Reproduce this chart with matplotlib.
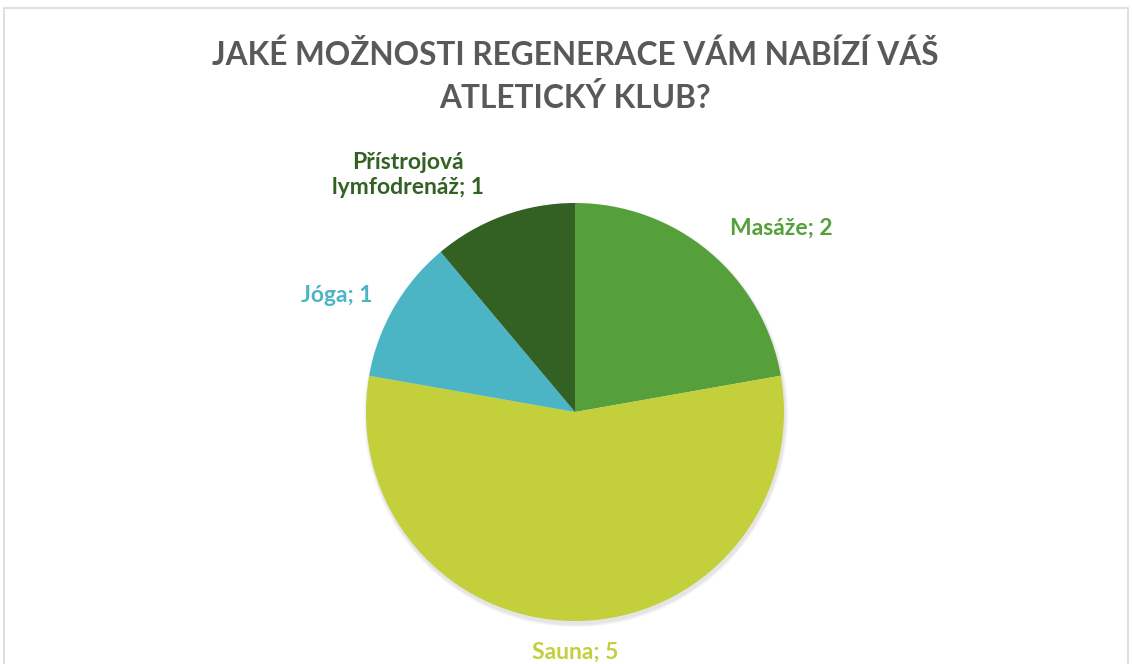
import matplotlib.pyplot as plt
from matplotlib.patches import Rectangle, Circle

# data
kategorie = ['Masáže', 'Sauna', 'Jóga', 'Přístrojová\nlymfodrenáž']
hodnoty = [2, 5, 1, 1]
barvy = ['#55A03A', '#C3D03C', '#4BB5C6', '#336124']
titulek = 'JAKÉ MOŽNOSTI REGENERACE VÁM NABÍZÍ VÁŠ\nATLETICKÝ KLUB?'

plt.rcParams['font.family'] = ['Lato', 'DejaVu Sans']

fig = plt.figure(figsize=(11.32, 6.64), dpi=100)
ax = fig.add_axes([0, 0, 1, 1])

# ramecek grafu
fig.patches.append(Rectangle((4 / 1132, -0.1), 1124 / 1132, (664 - 8) / 664 + 0.1,
                             transform=fig.transFigure, fill=False,
                             edgecolor='#D9D9D9', linewidth=1.2))

stred = (575, 252)
r = 209

# stin
for i, a in enumerate([0.03, 0.03, 0.04]):
    ax.add_patch(Circle((stred[0] + 1, stred[1] - 3), r + 3 - i, color='black',
                        alpha=a, linewidth=0, zorder=1))

ax.pie(hodnoty, colors=barvy, startangle=90, counterclock=False,
       center=stred, radius=r, wedgeprops=dict(linewidth=0, zorder=2))

ax.set_xlim(0, 1132)
ax.set_ylim(0, 664)
ax.set_aspect('equal')
ax.axis('off')

# popisky
pozice = [(781, 436), (575, 12), (337, 368), (408, 489)]
for kat, h, c, p in zip(kategorie, hodnoty, barvy, pozice):
    txt = kat + '; ' + str(h)
    ax.text(p[0], p[1], txt, color=c, fontsize=16.5, fontweight='bold',
            ha='center', va='center', linespacing=1.25)

ax.text(575, 588, titulek, color='#595959', fontsize=22.8, fontweight='bold',
        ha='center', va='center', linespacing=1.5)

fig.savefig('out.png', dpi=100)
